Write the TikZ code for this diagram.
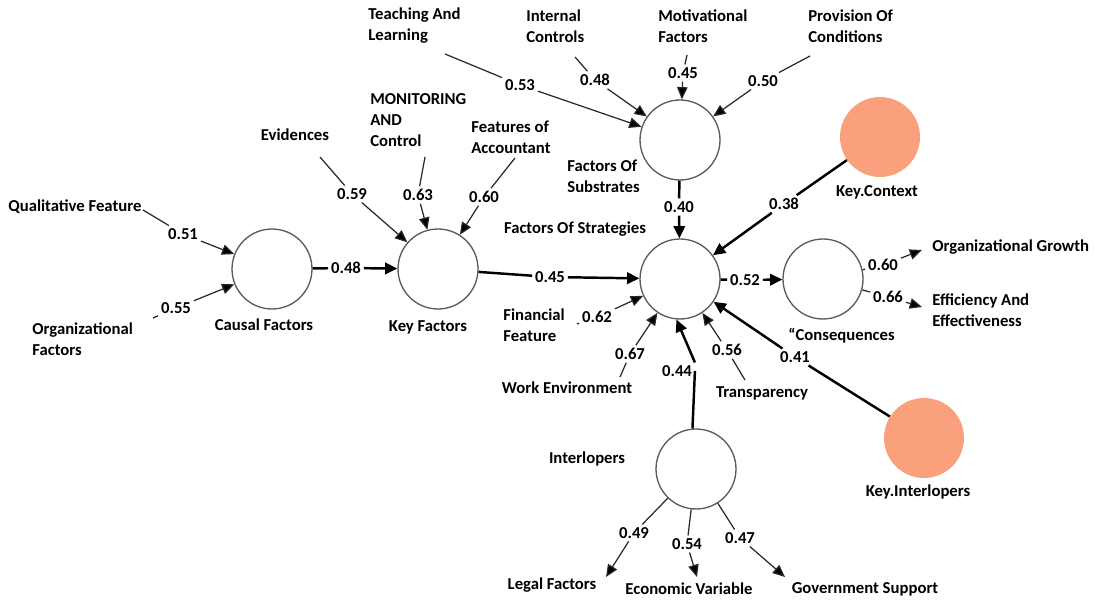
\documentclass[tikz,border=0pt]{standalone}
\usepackage{fontspec}
\setmainfont{Carlito}
\usetikzlibrary{arrows.meta}
\definecolor{keyfill}{RGB}{250,160,124}
\definecolor{indline}{RGB}{40,40,40}
\definecolor{circline}{RGB}{90,90,90}
\begin{document}
\begin{tikzpicture}[x=0.02cm,y=-0.02cm,
  every node/.style={font=\fontsize{9.5}{11.9}\selectfont\bfseries},
  lv/.style={circle,draw=circline,line width=0.75pt,fill=white,minimum size=1.6cm,inner sep=0},
  keyc/.style={circle,fill=keyfill,minimum size=1.6cm,inner sep=0},
  lbl/.style={inner sep=0,align=left},
  num/.style={inner sep=1.5pt},
  ind/.style={draw=indline,line width=0.7pt},
  inda/.style={ind,-{Triangle[length=7pt,width=6pt,fill=black]}},
  strc/.style={draw=black,line width=1.4pt},
  strca/.style={strc,-{Triangle[length=7pt,width=6.5pt]}},
]
\useasboundingbox (0,0) rectangle (1094,601);

% latent variables
\node[lv] (causal) at (272,269) {};
\node[lv] (key) at (438,269) {};
\node[lv] (subs) at (680,140) {};
\node[lv] (strat) at (680,279) {};
\node[lv] (cons) at (823,279) {};
\node[lv] (intl) at (696,469) {};
\node[keyc] (kc) at (880,137) {};
\node[keyc] (ki) at (924,438) {};

% labels
\node[lbl,anchor=west] (qf) at (8,207) {Qualitative Feature};
\node[lbl,anchor=west] (orgf) at (32,339) {Organizational\\Factors};
\node[lbl] (causalL) at (264,325) {Causal Factors};
\node[lbl] (keyL) at (428,327) {Key Factors};
\node[lbl] (evid) at (295,135) {Evidences};
\node[lbl,anchor=west] (monit) at (370,120) {MONITORING\\AND\\Control};
\node[lbl,anchor=west] (featA) at (471,137) {Features of\\Accountant};
\node[lbl,anchor=west] (teach) at (368,26) {Teaching And\\Learning};
\node[lbl,anchor=west] (internal) at (526,26) {Internal\\Controls};
\node[lbl,anchor=west] (motiv) at (658,26) {Motivational\\Factors};
\node[lbl,anchor=west] (prov) at (808,26) {Provision Of\\Conditions};
\node[lbl,anchor=west] (subsL) at (567,176) {Factors Of\\Substrates};
\node[lbl] (stratL) at (575,229) {Factors Of Strategies};
\node[lbl] (kcL) at (877,192) {Key.Context};
\node[lbl,anchor=west] (ogL) at (932,247) {Organizational Growth};
\node[lbl,anchor=west] (effL) at (932,310) {Efficiency And\\Effectiveness};
\node[lbl,anchor=west] (consL) at (788,336) {“Consequences};
\node[lbl,anchor=west] (finL) at (503,325) {Financial\\Feature};
\node[lbl] (workL) at (567,388) {Work Environment};
\node[lbl] (transL) at (762,393) {Transparency};
\node[lbl] (intL) at (587,459) {Interlopers};
\node[lbl] (kiL) at (918,492) {Key.Interlopers};
\node[lbl] (legalL) at (552,585) {Legal Factors};
\node[lbl] (econL) at (689,589) {Economic Variable};
\node[lbl] (govL) at (865,589) {Government Support};

% numbers
\node[num] (n051) at (183,234) {0.51};
\node[num] (n055) at (176,308) {0.55};
\node[num] (n048a) at (346,268) {0.48};
\node[num] (n059) at (352,194) {0.59};
\node[num] (n063) at (418,195) {0.63};
\node[num] (n060a) at (484,197) {0.60};
\node[num] (n045a) at (550,277) {0.45};
\node[num] (n053) at (520,85) {0.53};
\node[num] (n048b) at (595,80) {0.48};
\node[num] (n045b) at (683,73) {0.45};
\node[num] (n050) at (763,81) {0.50};
\node[num] (n040) at (679,207) {0.40};
\node[num] (n038) at (784,204) {0.38};
\node[num] (n052) at (745,280) {0.52};
\node[num] (n062) at (597,317) {0.62};
\node[num] (n067) at (630,354) {0.67};
\node[num] (n044) at (677,371) {0.44};
\node[num] (n056) at (727,350) {0.56};
\node[num] (n041) at (795,357) {0.41};
\node[num] (n060b) at (883,265) {0.60};
\node[num] (n066) at (888,297) {0.66};
\node[num] (n049) at (634,533) {0.49};
\node[num] (n054) at (687,544) {0.54};
\node[num] (n047) at (740,538) {0.47};

% free ends
\coordinate (qfS) at (143,210);
\coordinate (orgS) at (153,318);
\coordinate (evS) at (320,157);
\coordinate (moS) at (425,157);
\coordinate (faS) at (515,158);
\coordinate (teS) at (445,54);
\coordinate (inS) at (575,57);
\coordinate (mvS) at (687,55);
\coordinate (prS) at (810,56);
\coordinate (fiS) at (577,324);
\coordinate (woS) at (620,377);
\coordinate (trS) at (745,380);
\coordinate (ogT) at (922,250);
\coordinate (efT) at (922,307);
\coordinate (lfT) at (606,577);
\coordinate (evT) at (697,577);
\coordinate (gsT) at (785,577);

% indicator connectors
\draw[ind] (qfS) -- (n051); \draw[inda] (n051) -- (causal);
\draw[ind] (orgS) -- (n055); \draw[inda] (n055) -- (causal);
\draw[ind] (evS) -- (n059); \draw[inda] (n059) -- (key);
\draw[ind] (moS) -- (n063); \draw[inda] (n063) -- (key);
\draw[ind] (faS) -- (n060a); \draw[inda] (n060a) -- (key);
\draw[ind] (teS) -- (n053); \draw[inda] (n053) -- (subs);
\draw[ind] (inS) -- (n048b); \draw[inda] (n048b) -- (subs);
\draw[ind] (mvS) -- (n045b); \draw[inda] (n045b) -- (subs);
\draw[ind] (prS) -- (n050); \draw[inda] (n050) -- (subs);
\draw[ind] (fiS) -- (n062); \draw[inda] (n062) -- (strat);
\draw[ind] (woS) -- (n067); \draw[inda] (n067) -- (strat);
\draw[ind] (trS) -- (n056); \draw[inda] (n056) -- (strat);
\draw[ind] (cons) -- (n060b); \draw[inda] (n060b) -- (ogT);
\draw[ind] (cons) -- (n066); \draw[inda] (n066) -- (efT);
\draw[ind] (intl) -- (n049); \draw[inda] (n049) -- (lfT);
\draw[ind] (intl) -- (n054); \draw[inda] (n054) -- (evT);
\draw[ind] (intl) -- (n047); \draw[inda] (n047) -- (gsT);

% structural connectors
\draw[strc] (causal) -- (n048a); \draw[strca] (n048a) -- (key);
\draw[strc] (key) -- (n045a); \draw[strca] (n045a) -- (strat);
\draw[strc] (subs) -- (n040); \draw[strca] (n040) -- (strat);
\draw[strc] (kc) -- (n038); \draw[strca] (n038) -- (strat);
\draw[strc] (strat) -- (n052); \draw[strca] (n052) -- (cons);
\draw[strc] (ki) -- (n041); \draw[strca] (n041) -- (strat);
\draw[strc] (intl.95) -- (n044.east); \draw[strca] (n044.north east) -- (strat.265);
\end{tikzpicture}
\end{document}
